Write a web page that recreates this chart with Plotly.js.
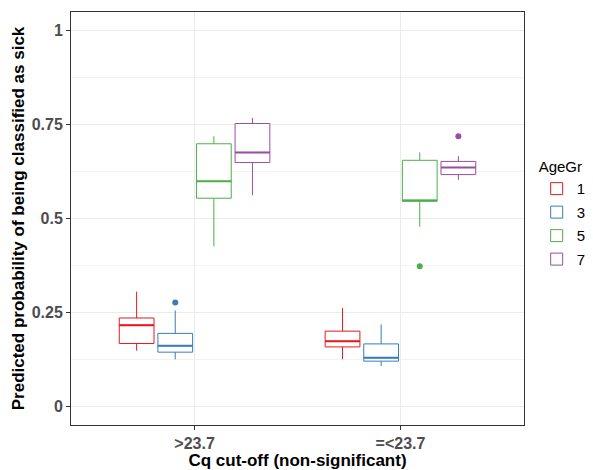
<!DOCTYPE html>
<html>
<head>
<meta charset="utf-8">
<script src="https://cdn.plot.ly/plotly-3.0.1.min.js"></script>
<style>html,body{margin:0;padding:0;background:#fff}#chart{width:593px;height:470px}</style>
</head>
<body>
<div id="chart"></div>
<script>
// Categories (x) and groups
const categories = [">23.7", "=<23.7"];
const ageGroups = ["1", "3", "5", "7"];
const colors = ["#E41A1C", "#377EB8", "#4DAF4A", "#984EA3"];

// Box statistics per age group, one value per category
const lowerFence = {"1": [0.148, 0.125], "3": [0.125, 0.107], "5": [0.426, 0.478], "7": [0.562, 0.603]};
const q1Values   = {"1": [0.167, 0.158], "3": [0.144, 0.120], "5": [0.554, 0.546], "7": [0.649, 0.617]};
const medians    = {"1": [0.216, 0.173], "3": [0.161, 0.129], "5": [0.599, 0.548], "7": [0.676, 0.636]};
const q3Values   = {"1": [0.235, 0.200], "3": [0.194, 0.166], "5": [0.699, 0.655], "7": [0.753, 0.652]};
const upperFence = {"1": [0.305, 0.262], "3": [0.255, 0.218], "5": [0.719, 0.676], "7": [0.768, 0.666]};
const outliers   = {"1": [[], []], "3": [[0.276], []], "5": [[], [0.373]], "7": [[], [0.719]]};

const yTickVals = [0, 0.25, 0.5, 0.75, 1];
const yTickText = ["0", "0.25", "0.5", "0.75", "1"];

const dodge = 0.75 / ageGroups.length;
const boxW = dodge * 0.9;
const FONT = "Liberation Sans, Arial, sans-serif";

const traces = [];
ageGroups.forEach((g, k) => {
  const xs = categories.map((c, i) => (i + 1) + (k - (ageGroups.length - 1) / 2) * dodge);
  traces.push({
    type: "box", name: g, legendgroup: g,
    x: xs, q1: q1Values[g], median: medians[g], q3: q3Values[g],
    lowerfence: lowerFence[g], upperfence: upperFence[g],
    width: boxW, whiskerwidth: 0, boxpoints: false,
    line: {color: colors[k], width: 1}, fillcolor: "#FFFFFF",
    hoverinfo: "skip"
  });
  // thicker median lines
  const mx = [], my = [];
  xs.forEach((x, i) => { mx.push(x - boxW / 2, x + boxW / 2, null); my.push(medians[g][i], medians[g][i], null); });
  traces.push({type: "scatter", mode: "lines", x: mx, y: my, showlegend: false, legendgroup: g,
    line: {color: colors[k], width: 2}, hoverinfo: "skip"});
  // outliers
  const ox = [], oy = [];
  xs.forEach((x, i) => outliers[g][i].forEach(v => { ox.push(x); oy.push(v); }));
  traces.push({type: "scatter", mode: "markers", x: ox, y: oy, showlegend: false, legendgroup: g,
    marker: {color: colors[k], size: 6}, hoverinfo: "skip"});
});

const minorY = [0.125, 0.375, 0.625, 0.875];

const layout = {
  width: 593, height: 470,
  margin: {l: 71, r: 69, t: 12, b: 45},
  paper_bgcolor: "#FFFFFF", plot_bgcolor: "#FFFFFF",
  font: {family: FONT, color: "#000000"},
  showlegend: true,
  boxmode: "overlay",
  xaxis: {
    type: "linear", range: [0.4, 2.6],
    tickmode: "array", tickvals: categories.map((c, i) => i + 1), ticktext: categories,
    showgrid: true, gridcolor: "#EBEBEB", gridwidth: 1, zeroline: false,
    showline: true, mirror: true, linecolor: "#333333", linewidth: 1,
    ticks: "outside", ticklen: 4, tickcolor: "#333333",
    tickfont: {family: FONT, size: 16, color: "#4D4D4D", weight: "bold"},
    title: {text: "Cq cut-off (non-significant)", font: {family: FONT, size: 17, color: "#000000", weight: "bold"}, standoff: 2},
    automargin: false
  },
  yaxis: {
    range: [-0.05, 1.05],
    tickmode: "array", tickvals: yTickVals, ticktext: yTickText,
    showgrid: true, gridcolor: "#EBEBEB", gridwidth: 1, zeroline: false,
    minor: {tickmode: "array", tickvals: minorY, showgrid: true, gridcolor: "#F2F2F2", gridwidth: 1, ticks: ""},
    showline: true, mirror: true, linecolor: "#333333", linewidth: 1,
    ticks: "outside", ticklen: 4, tickcolor: "#333333",
    tickfont: {family: FONT, size: 16, color: "#4D4D4D", weight: "bold"},
    title: {text: "Predicted probability of being classified as sick", font: {family: FONT, size: 17, color: "#000000", weight: "bold"}, standoff: 2},
    automargin: false
  },
  legend: {
    xref: "container", x: 0.905, xanchor: "left", y: 0.51, yanchor: "middle",
    title: {text: "AgeGr", font: {family: FONT, size: 15, color: "#000000"}},
    font: {family: FONT, size: 15, color: "#000000"},
    tracegroupgap: 1, bgcolor: "rgba(0,0,0,0)"
  }
};

Plotly.newPlot("chart", traces, layout, {staticPlot: true, displayModeBar: false});
</script>
</body>
</html>
